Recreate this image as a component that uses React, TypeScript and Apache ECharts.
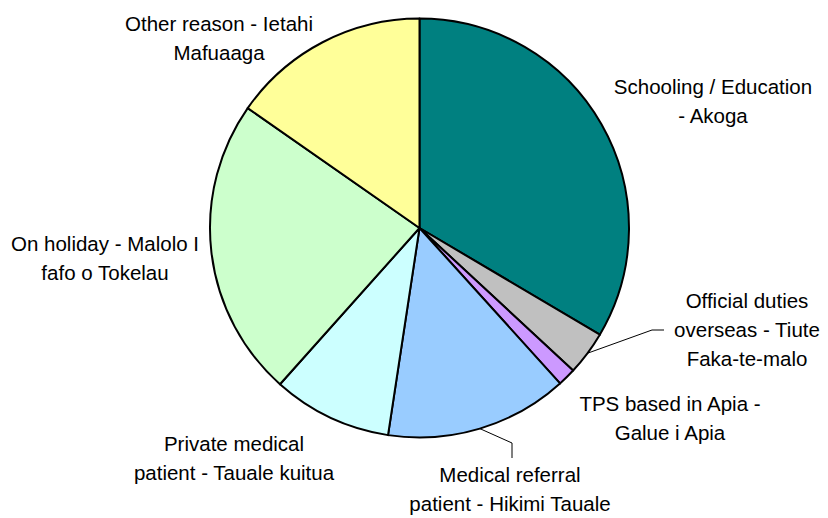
import React, { useEffect, useRef } from "react";
import * as echarts from "echarts";

const categories = [
  "Schooling / Education\n- Akoga",
  "Official duties\noverseas - Tiute\nFaka-te-malo",
  "TPS based in Apia -\nGalue i Apia",
  "Medical referral\npatient - Hikimi Tauale",
  "Private medical\npatient - Tauale kuitua",
  "On holiday - Malolo I\nfafo o Tokelau",
  "Other reason - Ietahi\nMafuaaga",
];
const values = [33.5, 3.4, 1.4, 14.1, 9.2, 23.1, 15.3];
const colors = ["#008080", "#C0C0C0", "#CC99FF", "#99CCFF", "#CCFFFF", "#CCFFCC", "#FFFF99"];
const showLine = [false, true, false, true, false, false, false];

// label block centres (layout only)
const labelPos: [number, number][] = [
  [713, 101],
  [747, 329],
  [670, 418],
  [510, 489],
  [234, 458],
  [105, 258],
  [219, 38],
];
// label line bend/end points (layout only)
const linePts: Record<number, [number, number][]> = {
  1: [[652, 330], [664, 330]],
  3: [[512, 443], [512, 458]],
};

export default function App() {
  const ref = useRef<HTMLDivElement>(null);
  useEffect(() => {
    if (!ref.current) return;
    const chart = echarts.init(ref.current, undefined, { renderer: "svg" });
    chart.setOption({
      animation: false,
      backgroundColor: "#ffffff",
      series: [
        {
          type: "pie",
          center: [419.5, 228],
          radius: 209.5,
          startAngle: 90,
          clockwise: true,
          avoidLabelOverlap: false,
          data: categories.map((name, i) => ({
            name,
            value: values[i],
            itemStyle: { color: colors[i] },
            labelLine: { show: showLine[i] },
          })),
          itemStyle: { borderColor: "#000000", borderWidth: 2 },
          label: {
            show: true,
            position: "outside",
            formatter: "{b}",
            fontFamily: "Liberation Sans, Arial, sans-serif",
            fontSize: 20.5,
            lineHeight: 29,
            color: "#000000",
            align: "center",
          },
          labelLine: {
            show: false,
            lineStyle: { color: "#000000", width: 1 },
          },
          labelLayout: (params: any) => {
            const i = params.dataIndex;
            const [x, y] = labelPos[i];
            const out: any = { x, y, align: "center", verticalAlign: "middle" };
            if (linePts[i] && params.labelLinePoints) {
              out.labelLinePoints = [params.labelLinePoints[0], ...linePts[i]];
            }
            return out;
          },
        },
      ],
    });
    return () => chart.dispose();
  }, []);
  return (
    <div
      ref={ref}
      style={{ position: "fixed", left: 0, top: 0, width: 828, height: 518, background: "#fff" }}
    />
  );
}
